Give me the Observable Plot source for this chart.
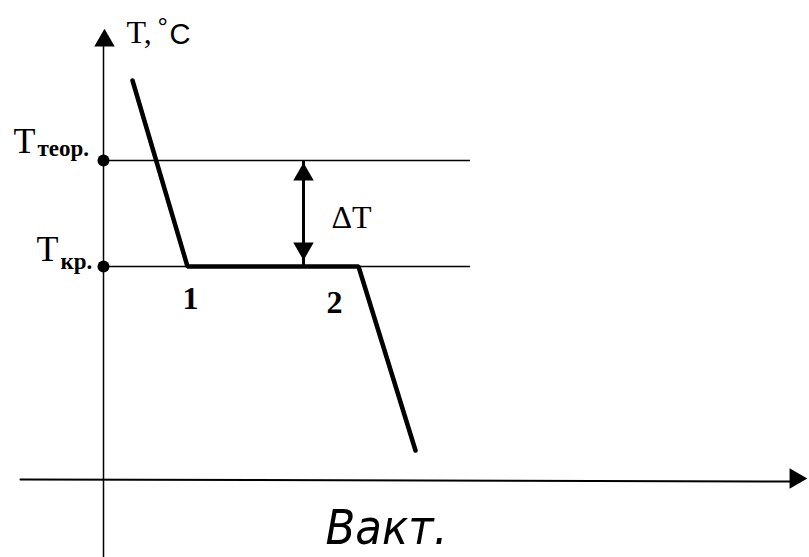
<!DOCTYPE html>
<html><head><meta charset="utf-8">
<script src="https://cdn.jsdelivr.net/npm/d3@7"></script>
<script src="https://cdn.jsdelivr.net/npm/@observablehq/plot@0.6"></script>
<style>html,body{margin:0;padding:0;background:#fff} svg{display:block}</style>
</head><body><div id="chart"></div>
<script>
// Cooling curve (schematic units: time along x, temperature along y)
const curveTime = [132, 187, 358, 415];
const curveTemp = [477, 291, 291, 107];
// Reference temperatures
const T_teor = 397;
const T_kr = 291;
const refStart = 103, refEnd = 470;
// Axes
const axisOriginTime = 103;
const axisTimeStart = 20, axisTimeEnd = 792;
const axisTempLine = [78, 76]; // slight tilt of the scanned axis (left, right)
const axisTempTop = 512;
// Delta-T marker
const deltaTime = 303;
// Labels
const labelText = ["T", "теор.", "T", "кр.", "1", "2", "ΔT", "T,", "°", "C", "Вакт."];
const labelTime = [13, 37, 36, 60, 182, 326, 331, 126, 157, 169, 325];
const labelTemp = [405, 402, 297, 289, 249, 245, 330, 515, 522, 514, 14];

const chart = Plot.plot({
  width: 809, height: 557, margin: 0,
  x: {domain: [0, 809], range: [0, 809], axis: null},
  y: {domain: [0, 557], range: [557, 0], axis: null},
  marks: [
    // horizontal reference lines
    Plot.ruleY([T_teor, T_kr], {x1: refStart, x2: refEnd, stroke: "#000", strokeWidth: 1.4}),
    // vertical axis
    Plot.ruleX([axisOriginTime], {y1: 0, y2: axisTempTop, stroke: "#000", strokeWidth: 1.5}),
    // horizontal axis
    Plot.line([[axisTimeStart, axisTempLine[0]], [axisTimeEnd, axisTempLine[1]]], {stroke: "#000", strokeWidth: 2}),
    // axis arrow heads
    Plot.dot([[axisOriginTime + 1, 517]], {symbol: "triangle", r: 7.6, fill: "#000", stroke: "none"}),
    Plot.dot([[795, 79]], {symbol: "triangle", r: 7.6, fill: "#000", stroke: "none", rotate: 90}),
    // cooling curve
    Plot.line(curveTime.map((t, i) => [t, curveTemp[i]]), {stroke: "#000", strokeWidth: 4.5, strokeLinejoin: "miter"}),
    // delta T arrow
    Plot.ruleX([deltaTime], {y1: T_kr, y2: T_teor, stroke: "#000", strokeWidth: 3}),
    Plot.dot([[deltaTime, 383]], {symbol: "triangle", r: 7.6, fill: "#000", stroke: "none"}),
    Plot.dot([[deltaTime, 309]], {symbol: "triangle", r: 7.6, fill: "#000", stroke: "none", rotate: 180}),
    // points on axis
    Plot.dot([T_teor, T_kr], {x: axisOriginTime, y: d => d, r: 6, fill: "#000", stroke: "none"}),
    // labels: big serif T
    Plot.text([0, 2], {x: i => labelTime[i], y: i => labelTemp[i], text: i => labelText[i], textAnchor: "start", lineAnchor: "bottom", fontFamily: "Liberation Serif", fontSize: 36, fill: "#000"}),
    // subscripts
    Plot.text([1, 3], {x: i => labelTime[i], y: i => labelTemp[i], text: i => labelText[i], textAnchor: "start", lineAnchor: "bottom", fontFamily: "Liberation Serif", fontWeight: "bold", fontSize: 23, fill: "#000"}),
    // point numbers
    Plot.text([4, 5], {x: i => labelTime[i], y: i => labelTemp[i], text: i => labelText[i], textAnchor: "start", lineAnchor: "bottom", fontFamily: "Liberation Serif", fontWeight: "bold", fontSize: 32, fill: "#000"}),
    // delta T
    Plot.text([6], {x: i => labelTime[i], y: i => labelTemp[i], text: i => labelText[i], textAnchor: "start", lineAnchor: "bottom", fontFamily: "Liberation Serif", fontSize: 32, fill: "#000"}),
    // axis title T, °C
    Plot.text([7], {x: i => labelTime[i], y: i => labelTemp[i], text: i => labelText[i], textAnchor: "start", lineAnchor: "bottom", fontFamily: "Liberation Serif", fontSize: 32, fill: "#000"}),
    Plot.text([8], {x: i => labelTime[i], y: i => labelTemp[i], text: i => labelText[i], textAnchor: "start", lineAnchor: "bottom", fontFamily: "Liberation Sans", fontSize: 26, fill: "#000"}),
    Plot.text([9], {x: i => labelTime[i], y: i => labelTemp[i], text: i => labelText[i], textAnchor: "start", lineAnchor: "bottom", fontFamily: "Liberation Sans", fontSize: 29, fill: "#000"}),
    // x axis title
    Plot.text([10], {x: i => labelTime[i], y: i => labelTemp[i], text: i => labelText[i], textAnchor: "start", lineAnchor: "bottom", fontFamily: "Liberation Sans Narrow, DejaVu Sans Condensed, sans-serif", fontStyle: "italic", fontSize: 48, fill: "#000"})
  ]
});
document.getElementById("chart").appendChild(chart);
chart.querySelectorAll("text").forEach(t => {
  if (t.textContent === "Вакт.") {
    t.setAttribute("textLength", "122");
    t.setAttribute("lengthAdjust", "spacingAndGlyphs");
  }
});
</script>
</body></html>
